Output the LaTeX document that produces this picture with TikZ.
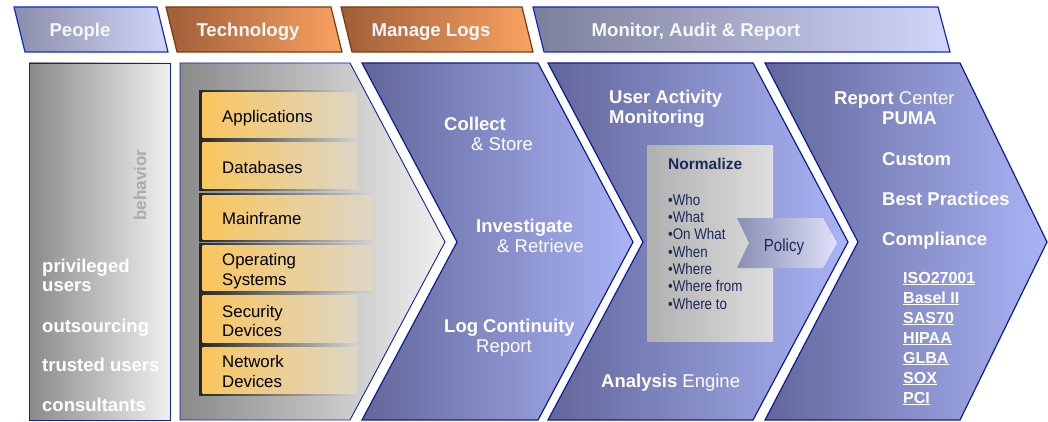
\documentclass[tikz,border=0pt]{standalone}
\usepackage{fontspec}
\setmainfont{Liberation Sans}
\newfontfamily\narrowfont[FakeStretch=0.86]{Liberation Sans}
\definecolor{peopleL}{HTML}{8A8EAA}
\definecolor{peopleR}{HTML}{D2D6FA}
\definecolor{techL}{HTML}{A05E38}
\definecolor{techR}{HTML}{FAA262}
\definecolor{techB}{HTML}{7A3A10}
\definecolor{blueB}{HTML}{1428D2}
\definecolor{navyB}{HTML}{0C1C98}
\definecolor{chevL}{HTML}{62669A}
\definecolor{chevR}{HTML}{AAB4F6}
\definecolor{grayL}{HTML}{8A8A8A}
\definecolor{grayR}{HTML}{F0F0F0}
\definecolor{boxL}{HTML}{F9C65E}
\definecolor{boxR}{HTML}{DED6C6}
\definecolor{navyT}{HTML}{1A2A5A}
\definecolor{behav}{HTML}{ABABAB}
\definecolor{polL}{HTML}{8A8EB2}
\definecolor{polR}{HTML}{E0E2FA}
\newcommand\ulx[1]{\setbox0\hbox{#1}\rlap{\rule[-2.4pt]{\wd0}{1.3pt}}\box0}
\begin{document}
\begin{tikzpicture}[x=1pt,y=-1pt,
  hdrtext/.style={font={\fontsize{18.6}{21}\selectfont\bfseries}, text=white!94!gray, anchor=base, inner sep=0pt},
  wb/.style={font={\fontsize{18.5}{21}\selectfont\bfseries}, text=white, anchor=base west, inner sep=0pt},
  wr/.style={font={\fontsize{18.5}{21}\selectfont}, text=white, anchor=base west, inner sep=0pt},
  wsmall/.style={font={\fontsize{16}{18}\selectfont\bfseries}, text=white, anchor=base west, inner sep=0pt},
  boxtext/.style={font={\fontsize{16.8}{19.5}\selectfont}, text=black, anchor=base west, inner sep=0pt},
  bullet/.style={font={\narrowfont\fontsize{15.5}{17}\selectfont}, text=navyT, anchor=base west, inner sep=0pt},
  chevron/.style={draw=navyB, line width=1.2pt, left color=chevL, right color=chevR, line join=miter},
  bluetab/.style={draw=blueB, line width=1.2pt, left color=peopleL, right color=peopleR},
  browntab/.style={draw=techB, line width=1.2pt, left color=techL, right color=techR},
  graypanel/.style={draw=blueB!80!black, line width=0.9pt, left color=grayL, right color=grayR}
]
\useasboundingbox (0,0) rectangle (1048,422);

% header tabs
\path[bluetab] (14,7) -- (157,7) -- (168,52) -- (25,52) -- cycle;
\path[browntab] (166,7) -- (331,7) -- (342,52) -- (177,52) -- cycle;
\path[browntab] (341,7) -- (522,7) -- (533,52) -- (352,52) -- cycle;
\path[bluetab, left color=peopleL!90!black] (533,7) -- (938,7) -- (950,52) -- (544,52) -- cycle;
\node[hdrtext] (hpeople) at (80,37) {People};
\node[hdrtext] (htech) at (248,37) {Technology};
\node[hdrtext] (hlogs) at (431,37) {Manage Logs};
\node[hdrtext] (hmon) at (696,37) {Monitor, Audit \& Report};

% people panel
\path[graypanel] (29,63) rectangle (170,420);
\node[font={\fontsize{17}{19}\selectfont\bfseries}, text=behav, rotate=90, inner sep=0pt] (behavior) at (140,185) {behavior};
\node[wb] (priv) at (42,272) {privileged};
\node[wb] (privu) at (42,291) {users};
\node[wb] (outs) at (42,332) {outsourcing};
\node[wb] (trust) at (42,371) {trusted users};
\node[wb] (cons) at (42,411) {consultants};

% technology panel
\path[graypanel] (180,63) -- (350,63) -- (445,242) -- (350,420) -- (180,420) -- cycle;
\foreach \ya/\yb/\xb in {93/138/357, 143/188/357, 195/239/373, 245/290/373, 295/342/357, 347/393/357}{
  \shade[left color=black!85, right color=gray!35] (199,\ya-2) rectangle (\xb,\yb+2);
  \shade[left color=boxL, right color=boxR] (202.5,\ya) rectangle (\xb,\yb);
}
\node[boxtext] (apps) at (222,123) {Applications};
\node[boxtext] (dbs) at (222,173) {Databases};
\node[boxtext] (mainf) at (222,224) {Mainframe};
\node[boxtext] (os1) at (222,265) {Operating};
\node[boxtext] (os2) at (222,285) {Systems};
\node[boxtext] (sec1) at (222,317) {Security};
\node[boxtext] (sec2) at (222,336) {Devices};
\node[boxtext] (net1) at (222,367) {Network};
\node[boxtext] (net2) at (222,387) {Devices};

% manage logs chevron
\path[chevron] (362,63) -- (538,63) -- (633,242) -- (538,420) -- (362,420) -- (457,242) -- cycle;
\node[wb] (collect) at (444,131) {Collect};
\node[wr] (store) at (471,151) {\&~Store};
\node[wb] (invest) at (476,232) {Investigate};
\node[wr] (retr) at (497,252) {\&~Retrieve};
\node[wb] (logc) at (444,332) {Log Continuity};
\node[wr] (logr) at (476,352) {Report};

% monitor chevron
\path[chevron] (548,63) -- (753,63) -- (848,242) -- (753,420) -- (548,420) -- (643,242) -- cycle;
\node[wb] (uam1) at (609,104) {User Activity};
\node[wb] (uam2) at (609,124) {Monitoring};
\shade[left color=gray!62, middle color=gray!28, right color=gray!26] (647,146) rectangle (773,341);
\node[font={\fontsize{15.5}{18}\selectfont\bfseries}, text=navyT, anchor=base west, inner sep=0pt] (norm) at (668,170) {Normalize};
\node[bullet] (b1) at (668,205) {•Who};
\node[bullet] (b2) at (668,222) {•What};
\node[bullet] (b3) at (668,239.5) {•On What};
\node[bullet] (b4) at (668,257) {•When};
\node[bullet] (b5) at (668,274) {•Where};
\node[bullet] (b6) at (668,291.5) {•Where from};
\node[bullet] (b7) at (668,309) {•Where to};
\shade[left color=polL, right color=polR] (737,218) -- (823,218) -- (837,243) -- (823,268) -- (737,268) -- (749,243) -- cycle;
\node[font={\narrowfont\fontsize{17.5}{20}\selectfont}, text=navyT, anchor=base, inner sep=0pt] (policy) at (784,251) {Policy};
\node[wb] (anal) at (601,387) {Analysis \mdseries Engine};

% report chevron
\path[chevron] (765,63) -- (960,63) -- (1047,242) -- (960,420) -- (765,420) -- (858,242) -- cycle;
\node[wb] (repc) at (834,105) {Report \mdseries Center};
\node[wb] (puma) at (882,125) {PUMA};
\node[wb] (custom) at (882,165) {Custom};
\node[wb] (bestp) at (882,205) {Best Practices};
\node[wb] (compl) at (882,245) {Compliance};
\node[wsmall] (iso) at (903,283) {\ulx{ISO27001}};
\node[wsmall] (basel) at (903,303) {\ulx{Basel II}};
\node[wsmall] (sas) at (903,323) {\ulx{SAS70}};
\node[wsmall] (hipaa) at (903,343) {\ulx{HIPAA}};
\node[wsmall] (glba) at (903,363) {\ulx{GLBA}};
\node[wsmall] (sox) at (903,383) {\ulx{SOX}};
\node[wsmall] (pci) at (903,403) {\ulx{PCI}};
\end{tikzpicture}
\end{document}
